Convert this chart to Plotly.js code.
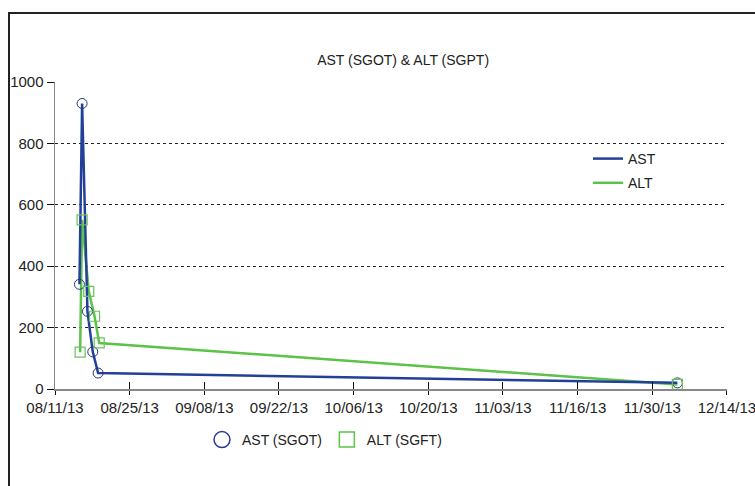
<!DOCTYPE html>
<html>
<head>
<meta charset="utf-8">
<script src="https://cdn.plot.ly/plotly-3.0.1.min.js"></script>
<style>
  html, body { margin: 0; padding: 0; background: #fff; overflow: hidden; }
  #wrap { position: relative; width: 755px; height: 486px; }
  #chart { position: absolute; left: 0; top: 0; width: 755px; height: 486px; }
  #frame { position: absolute; left: 8px; top: 12px; width: 900px; height: 700px;
           border-left: 2px solid #222; border-top: 2px solid #222; pointer-events: none; z-index: 10; }
</style>
</head>
<body>
<div id="wrap">
  <div id="chart"></div>
  <div id="frame"></div>
</div>
<script>
// ---- data ----
const astDates  = ['2013-08-15 14:00', '2013-08-16 02:00', '2013-08-17 02:00', '2013-08-18 02:00', '2013-08-19 02:00', '2013-12-05 17:00'];
const astValues = [341, 930, 253, 121, 52, 20];
const altDates  = ['2013-08-15 17:00', '2013-08-16 02:00', '2013-08-17 08:00', '2013-08-18 10:00', '2013-08-19 07:00', '2013-12-05 17:00'];
const altValues = [120, 551, 318, 237, 150, 15];
const tickDates  = ['2013-08-11', '2013-08-25', '2013-09-08', '2013-09-22', '2013-10-06', '2013-10-20', '2013-11-03', '2013-11-17', '2013-12-01', '2013-12-15'];
const tickLabels = ['08/11/13', '08/25/13', '09/08/13', '09/22/13', '10/06/13', '10/20/13', '11/03/13', '11/16/13', '11/30/13', '12/14/13'];
const yTicks = [0, 200, 400, 600, 800, 1000];
const chartTitle = 'AST (SGOT) & ALT (SGPT)';

const FONT = "'Liberation Sans', Arial, sans-serif";
const BLUE = '#22409a';
const GREEN = '#5cc24a';
const xRange = ['2013-08-11', '2013-12-15 00:20'];

const traces = [
  { x: altDates, y: altValues, mode: 'lines', name: 'ALT', legend: 'legend', legendgroup: 'g2',
    line: { color: GREEN, width: 2.5 }, legendrank: 2 },
  { x: astDates, y: astValues, mode: 'lines', name: 'AST', legend: 'legend', legendgroup: 'g1',
    line: { color: BLUE, width: 2.5 }, legendrank: 1 },
  { x: astDates, y: astValues, mode: 'markers', name: 'AST (SGOT)', showlegend: false,
    marker: { symbol: 'circle-open', size: 10, color: '#2a3585', line: { width: 1 } } },
  { x: altDates, y: altValues, mode: 'markers', name: 'ALT (SGFT)', showlegend: false,
    marker: { symbol: 'square-open', size: 10, color: '#68c25a', line: { width: 1.2 } } },
  // legend entries for the marker series (bottom legend)
  { x: [null], y: [null], xaxis: 'x2', mode: 'markers', name: 'AST (SGOT)', legend: 'legend2',
    marker: { symbol: 'circle-open', size: 16, color: '#2a3a9a', line: { width: 1.5 } } },
  { x: [null], y: [null], xaxis: 'x2', mode: 'markers', name: 'ALT (SGFT)', legend: 'legend2',
    marker: { symbol: 'square-open', size: 15, color: '#5cc24a', line: { width: 1.5 } } }
];

const layout = {
  width: 755, height: 486,
  margin: { l: 55, r: 28, t: 82, b: 97, pad: 0 },
  paper_bgcolor: 'rgba(0,0,0,0)',
  plot_bgcolor: 'rgba(0,0,0,0)',
  font: { family: FONT, size: 14, color: '#222' },
  title: { text: chartTitle, x: 0.518, xref: 'paper', xanchor: 'center',
           y: 1 - 60 / 486, yref: 'container', yanchor: 'middle',
           font: { family: FONT, size: 14, color: '#222' } },
  xaxis: {
    type: 'date', range: xRange, tickmode: 'array', tickvals: tickDates, ticktext: tickLabels,
    showline: true, linecolor: '#888', linewidth: 1.5, ticks: 'outside', ticklen: 4, tickcolor: '#111',
    tickwidth: 1, showgrid: false, zeroline: false, ticklabeloverflow: 'allow',
    tickfont: { family: FONT, size: 15, color: '#222' }
  },
  xaxis2: {
    type: 'date', range: xRange, overlaying: 'x', anchor: 'y', tickmode: 'array', tickvals: tickDates,
    showticklabels: false, ticks: 'inside', ticklen: 7, tickcolor: '#111', tickwidth: 1,
    showline: false, showgrid: false, zeroline: false
  },
  yaxis: {
    range: [0, 1000], tickmode: 'array', tickvals: yTicks,
    showline: true, linecolor: '#888', linewidth: 1.5, ticks: 'outside', ticklen: 7, tickcolor: '#111',
    showgrid: true, gridcolor: '#222', griddash: 'dot', gridwidth: 1, zeroline: false,
    tickfont: { family: FONT, size: 15, color: '#222' }
  },
  legend: {
    x: (588 - 55) / 672, xanchor: 'left', y: (389 - 143) / 307, yanchor: 'top',
    bgcolor: 'rgba(0,0,0,0)', borderwidth: 0, font: { family: FONT, size: 14, color: '#222' },
    traceorder: 'grouped', tracegroupgap: 3
  },
  legend2: {
    orientation: 'h', x: (202 - 55) / 672, xanchor: 'left', y: (389 - 440) / 307, yanchor: 'middle',
    bgcolor: 'rgba(0,0,0,0)', borderwidth: 0, font: { family: FONT, size: 14, color: '#222' },
    itemsizing: 'trace'
  },
  showlegend: true
};

Plotly.newPlot('chart', traces, layout, { displayModeBar: false, staticPlot: true });
</script>
</body>
</html>
